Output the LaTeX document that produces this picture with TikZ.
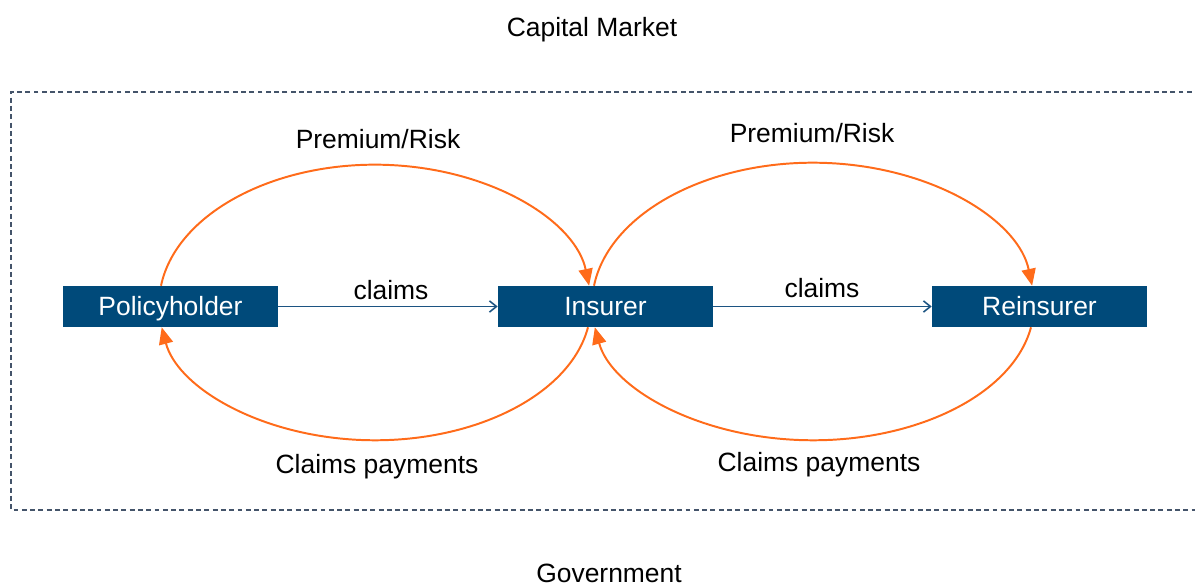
\documentclass[tikz,border=0pt]{standalone}
\usepackage{fontspec}
\setmainfont{Liberation Sans}
\usetikzlibrary{arrows.meta}
\definecolor{boxblue}{RGB}{0,74,122}
\definecolor{flowblue}{RGB}{28,84,130}
\definecolor{arcorange}{RGB}{255,107,26}
\definecolor{framegray}{RGB}{68,84,106}
\begin{document}
\begin{tikzpicture}[x=0.025cm,y=0.025cm,
  party/.style={fill=boxblue, text=white, minimum width=5.375cm, minimum height=1.025cm,
    inner sep=0pt, text height=13.5pt, text depth=0pt, font=\fontsize{18.8}{22}\selectfont},
  lbl/.style={anchor=base, inner sep=0pt, font=\fontsize{18.8}{22}\selectfont},
  flow/.style={draw=flowblue, line width=1.1pt, -{Straight Barb[length=5pt,width=8pt]}},
  cycleflow/.style={draw=arcorange, line width=1.4pt, -{Triangle[length=12pt,width=10pt]}},
  border/.style={draw=framegray, line width=0.9pt, dash pattern=on 3.5pt off 2.4pt}]
\useasboundingbox (0,0) rectangle (1195,586);

% market boundary, open on the right
\draw[border] (1200,494) -- (11,494) -- (11,76) -- (1200,76);

% parties
\node[party] (ph)  at (170.5,279.5)  {Policyholder};
\node[party] (ins) at (605.5,279.5)  {Insurer};
\node[party] (re)  at (1039.5,279.5) {Reinsurer};

% claims flow
\draw[flow] (ph) -- (ins);
\draw[flow] (ins) -- (re);

% premium / risk loops (top)
\draw[cycleflow] ([xshift=-0.2375cm]ph.north)
  arc[start angle=172.2, end angle=7.8, x radius=5.4cm, y radius=3.5cm];
\draw[cycleflow] ([xshift=-0.2875cm]ins.north)
  arc[start angle=172.3, end angle=7.7, x radius=5.525cm, y radius=3.55cm];

% claims payment loops (bottom)
\draw[cycleflow] ([xshift=-0.4375cm]ins.south)
  arc[start angle=-9.4, end angle=-170.6, x radius=5.4cm, y radius=3.375cm];
\draw[cycleflow] ([xshift=-0.2125cm]re.south)
  arc[start angle=-9.4, end angle=-170.6, x radius=5.525cm, y radius=3.375cm];

% labels
\node[lbl] (cap)  at (592,549) {Capital Market};
\node[lbl] (gov)  at (609,4)   {Government};
\node[lbl] (pr1)  at (378,437) {Premium/Risk};
\node[lbl] (pr2)  at (812,443) {Premium/Risk};
\node[lbl] (cl1)  at (391,286) {claims};
\node[lbl] (cl2)  at (822,288) {claims};
\node[lbl] (cp1)  at (377,113) {Claims payments};
\node[lbl] (cp2)  at (819,115) {Claims payments};
\end{tikzpicture}
\end{document}
